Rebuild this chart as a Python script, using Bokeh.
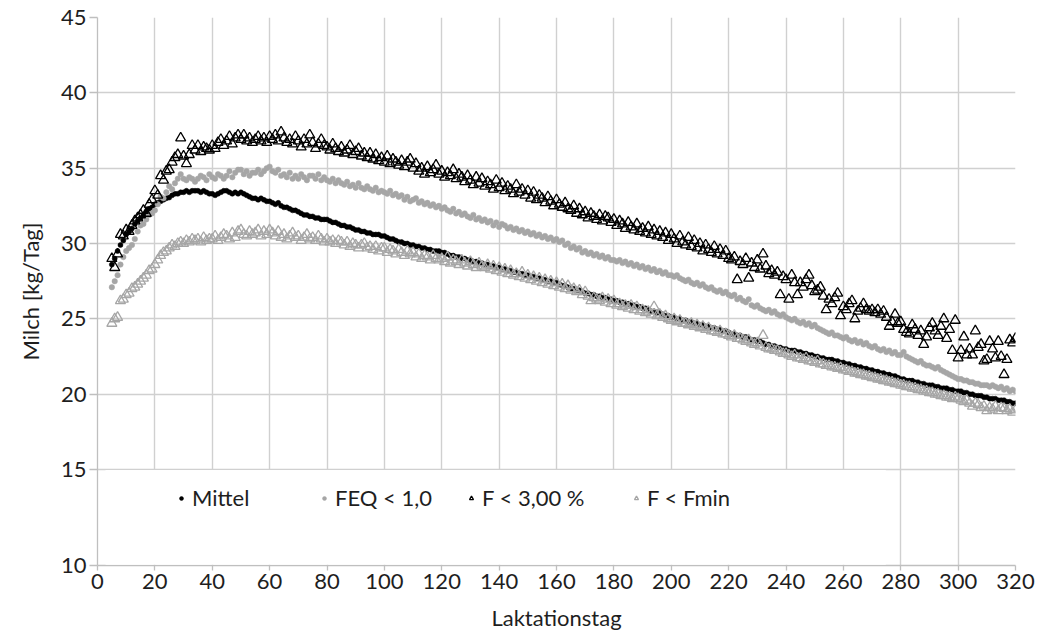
from bokeh.plotting import figure
from bokeh.models import Legend, LegendItem, BoxAnnotation, FixedTicker
from bokeh.embed import file_html
from bokeh.resources import INLINE

days = list(range(5, 321))

mittel = [
    28.6, 29.0, 29.5, 29.9, 30.2, 30.6, 30.8, 31.0, 31.3, 31.5,
    31.7, 31.9, 32.1, 32.3, 32.4, 32.6, 32.7, 32.8, 32.9, 33.0,
    33.05, 33.2, 33.3, 33.3, 33.4, 33.4, 33.5, 33.4, 33.5, 33.5,
    33.5, 33.4, 33.5, 33.4, 33.3, 33.3, 33.2, 33.3, 33.4, 33.5,
    33.5, 33.4, 33.3, 33.4, 33.3, 33.4, 33.3, 33.2, 33.1, 33.0,
    33.0, 32.9, 33.0, 32.9, 32.8, 32.8, 32.7, 32.6, 32.7, 32.5,
    32.4, 32.4, 32.3, 32.2, 32.2, 32.1, 32.0, 31.9, 31.9, 31.8,
    31.8, 31.7, 31.7, 31.6, 31.6, 31.6, 31.5, 31.4, 31.4, 31.3,
    31.2, 31.2, 31.1, 31.1, 31.0, 30.9, 30.9, 30.8, 30.8, 30.7,
    30.7, 30.6, 30.6, 30.6, 30.5, 30.5, 30.4, 30.3, 30.3, 30.2,
    30.1, 30.1, 30.0, 30.0, 29.9, 29.9, 29.8, 29.8, 29.7, 29.7,
    29.6, 29.6, 29.5, 29.5, 29.5, 29.4, 29.4, 29.3, 29.2, 29.2,
    29.1, 29.1, 29.0, 29.0, 28.9, 28.9, 28.8, 28.8, 28.7, 28.7,
    28.6, 28.6, 28.5, 28.5, 28.4, 28.4, 28.3, 28.3, 28.2, 28.2,
    28.1, 28.1, 28.0, 28.0, 27.9, 27.9, 27.8, 27.8, 27.7, 27.7,
    27.6, 27.6, 27.5, 27.5, 27.4, 27.4, 27.3, 27.2, 27.2, 27.1,
    27.0, 27.0, 26.9, 26.9, 26.8, 26.7, 26.7, 26.6, 26.6, 26.5,
    26.5, 26.4, 26.4, 26.3, 26.3, 26.2, 26.2, 26.1, 26.1, 26.0,
    26.0, 25.9, 25.9, 25.8, 25.8, 25.7, 25.7, 25.6, 25.5, 25.5,
    25.4, 25.4, 25.3, 25.2, 25.2, 25.1, 25.1, 25.0, 25.0, 24.9,
    24.9, 24.8, 24.8, 24.7, 24.7, 24.6, 24.6, 24.5, 24.5, 24.4,
    24.4, 24.3, 24.3, 24.2, 24.2, 24.1, 24.0, 24.0, 23.9, 23.9,
    23.8, 23.8, 23.7, 23.6, 23.6, 23.5, 23.5, 23.4, 23.3, 23.3,
    23.2, 23.2, 23.1, 23.1, 23.0, 23.0, 22.9, 22.9, 22.9, 22.8,
    22.8, 22.7, 22.7, 22.6, 22.6, 22.5, 22.5, 22.4, 22.4, 22.3,
    22.3, 22.3, 22.2, 22.2, 22.1, 22.1, 22.0, 22.0, 21.9, 21.9,
    21.8, 21.8, 21.7, 21.7, 21.6, 21.6, 21.5, 21.5, 21.4, 21.4,
    21.3, 21.3, 21.2, 21.2, 21.1, 21.0, 21.0, 20.9, 20.9, 20.9,
    20.8, 20.8, 20.7, 20.7, 20.6, 20.6, 20.6, 20.5, 20.5, 20.4,
    20.4, 20.4, 20.3, 20.3, 20.2, 20.2, 20.2, 20.1, 20.1, 20.0,
    20.0, 19.9, 19.9, 19.9, 19.8, 19.8, 19.7, 19.7, 19.7, 19.6,
    19.6, 19.6, 19.5, 19.5, 19.4, 19.4,
]

feq = [
    27.1, 27.5, 27.9, 28.6, 29.1, 29.5, 29.7, 29.9, 30.3, 30.8,
    31.2, 31.3, 31.6, 31.9, 32.0, 32.2, 32.6, 33.1, 33.0, 33.4,
    33.8, 33.6, 34.0, 34.3, 34.6, 34.3, 34.2, 34.4, 34.3, 34.1,
    34.3, 34.5, 34.4, 34.2, 34.6, 34.4, 34.3, 34.6, 34.5, 34.3,
    34.5, 34.8, 34.4, 34.7, 34.9, 34.9, 34.6, 34.8, 34.5, 34.7,
    34.7, 34.9, 34.6, 34.8, 35.0, 35.1, 34.8, 34.7, 34.9, 34.5,
    34.6, 34.4, 34.7, 34.3, 34.5, 34.3, 34.6, 34.4, 34.2, 34.5,
    34.5, 34.3, 34.6, 34.2, 34.4, 34.2, 34.1, 34.3, 34.0, 34.2,
    34.0, 33.9, 34.1, 33.8, 33.9, 33.7, 34.0, 33.7, 33.6, 33.8,
    33.6, 33.5, 33.7, 33.4, 33.5, 33.4, 33.3, 33.5, 33.2, 33.3,
    33.1, 33.2, 32.9, 33.1, 32.8, 32.9, 33.0, 32.7, 32.8, 32.6,
    32.7, 32.5, 32.6, 32.4, 32.5, 32.3, 32.4, 32.2, 32.1, 32.3,
    32.0, 32.1, 31.9, 32.0, 31.8, 31.7, 31.9, 31.6, 31.7, 31.5,
    31.6, 31.4, 31.5, 31.2, 31.4, 31.1, 31.3, 31.2, 31.0, 31.1,
    30.9, 31.0, 30.8, 30.9, 30.7, 30.8, 30.6, 30.7, 30.5, 30.6,
    30.4, 30.5, 30.3, 30.4, 30.2, 30.3, 30.1, 30.2, 29.9, 30.0,
    29.7, 29.8, 29.6, 29.7, 29.4, 29.5, 29.3, 29.4, 29.2, 29.3,
    29.1, 29.2, 29.0, 29.1, 28.9, 28.9, 28.8, 28.9, 28.7, 28.8,
    28.6, 28.7, 28.5, 28.6, 28.4, 28.5, 28.3, 28.4, 28.2, 28.3,
    28.1, 28.2, 28.0, 28.1, 27.9, 27.9, 27.8, 27.9, 27.7, 27.6,
    27.5, 27.6, 27.4, 27.3, 27.4, 27.2, 27.3, 27.1, 27.0, 27.1,
    26.9, 26.8, 26.9, 26.7, 26.8, 26.6, 26.5, 26.6, 26.3, 26.4,
    26.2, 26.1, 26.3, 25.9, 25.8, 25.9, 25.7, 25.6, 25.5, 25.6,
    25.4, 25.5, 25.3, 25.2, 25.3, 25.1, 25.0, 24.9, 25.0, 24.8,
    24.7, 24.8, 24.6, 24.7, 24.5, 24.6, 24.4, 24.3, 24.2, 24.1,
    24.0, 24.1, 23.9, 23.9, 23.8, 23.7, 23.8, 23.6, 23.5, 23.6,
    23.4, 23.5, 23.3, 23.4, 23.2, 23.1, 23.2, 23.0, 22.9, 23.0,
    22.8, 22.9, 22.7, 22.8, 22.6, 22.6, 22.8, 22.5, 22.4, 22.3,
    22.2, 22.1, 22.2, 22.0, 21.9, 21.9, 21.8, 21.7, 21.8, 21.6,
    21.5, 21.4, 21.3, 21.2, 21.1, 21.0, 21.0, 20.9, 20.9, 20.8,
    20.8, 20.7, 20.7, 20.6, 20.6, 20.6, 20.5, 20.6, 20.5, 20.4,
    20.5, 20.3, 20.4, 20.2, 20.3, 20.2,
]

f300 = [
    29.0, 28.4, 29.3, 30.6, 30.5, 30.9, 30.8, 31.2, 31.5, 31.7,
    31.9, 32.2, 32.0, 32.6, 32.9, 33.5, 33.2, 34.5, 34.2, 34.8,
    34.9, 35.4, 35.7, 35.9, 37.0, 35.8, 35.3, 35.9, 36.5, 36.2,
    36.5, 36.1, 36.4, 36.3, 36.2, 36.5, 36.3, 36.7, 36.9, 36.5,
    36.8, 37.1, 36.6, 37.0, 37.2, 36.9, 37.2, 36.8, 37.0, 36.7,
    36.9, 37.1, 36.8, 37.0, 36.7, 37.1, 36.9, 37.2, 36.8, 37.4,
    37.0, 36.7, 36.9, 36.6, 37.1, 36.8, 36.4, 36.9, 36.6, 37.2,
    36.7, 36.3, 36.6, 36.9, 36.5, 36.4, 36.2, 36.6, 36.3, 36.1,
    36.4, 36.0, 36.2, 36.5, 35.9, 36.1, 36.3, 35.8, 36.0, 35.7,
    36.0, 35.6, 35.9, 35.5, 35.7, 35.4, 35.8, 35.3, 35.6, 35.4,
    35.2, 35.5, 35.1, 35.4, 35.6, 35.0, 35.3, 34.8, 35.0, 34.6,
    35.1, 34.7, 34.9, 35.2, 34.6, 34.8, 34.4, 34.7, 34.5, 34.9,
    34.3, 34.6, 34.4, 34.1, 34.5, 34.2, 33.9, 34.4, 34.0, 34.3,
    33.8, 34.1, 33.9, 33.6, 34.2, 33.7, 34.0, 33.5, 33.8, 33.6,
    33.3, 33.9, 33.4, 33.6, 33.2, 33.5, 33.0, 33.4, 32.9, 33.2,
    33.0, 32.7, 33.1, 32.8, 32.5, 32.9, 32.6, 32.4, 32.7, 32.3,
    32.2, 32.5, 32.0, 32.3, 31.9, 32.1, 31.7, 32.0, 31.8, 31.6,
    31.9, 31.5, 31.8, 31.7, 31.4, 31.6, 31.2, 31.5, 31.3, 31.0,
    31.4, 31.1, 30.9, 31.3, 30.8, 31.0, 30.7, 31.1, 30.6, 30.9,
    30.5, 30.8, 30.4, 30.7, 30.2, 30.6, 30.3, 30.0, 30.5, 30.1,
    29.9, 30.4, 29.8, 30.2, 29.7, 30.0, 29.5, 29.9, 29.6, 29.4,
    29.8, 29.3, 29.6, 29.2, 29.5, 29.0, 28.9, 29.1, 27.6, 28.8,
    28.6, 29.0, 27.7, 28.7, 28.4, 28.9, 28.3, 29.3, 28.5, 28.0,
    28.2, 27.9, 28.1, 26.6, 27.8, 27.6, 26.3, 27.9, 27.4, 26.6,
    27.4, 27.1, 27.6, 27.9, 27.2, 26.8, 26.9, 27.1, 26.5, 25.6,
    26.3, 26.0, 26.4, 26.7, 25.2, 25.8, 25.6, 26.0, 26.2, 25.0,
    25.5, 25.7, 26.0, 25.6, 25.5, 25.6, 25.4, 25.6, 25.3, 25.5,
    25.1, 24.5, 24.8, 25.3, 24.7, 24.8, 24.3, 24.1, 24.0, 24.6,
    24.3, 23.9, 24.2, 23.3, 23.8, 24.4, 24.7, 24.2, 23.9, 24.5,
    25.0, 23.7, 24.3, 22.9, 24.9, 22.4, 22.9, 23.8, 22.6, 23.0,
    22.6, 24.2, 23.1, 23.3, 22.2, 22.3, 23.5, 23.0, 22.4, 23.5,
    22.5, 21.3, 22.3, 23.6, 23.4, 23.7,
]

fmin = [
    24.7, 25.0, 25.1, 26.2, 26.3, 26.6, 26.7, 27.0, 27.1, 27.3,
    27.5, 27.7, 27.9, 28.2, 28.3, 28.6, 28.9, 29.2, 29.4, 29.5,
    29.7, 29.9, 29.8, 30.0, 30.1, 30.0, 30.2, 30.1, 30.3, 30.2,
    30.3, 30.1, 30.4, 30.2, 30.3, 30.3, 30.5, 30.2, 30.4, 30.6,
    30.5, 30.3, 30.7, 30.4, 30.8, 30.9, 30.6, 30.5, 30.8, 30.6,
    30.7, 30.9, 30.5, 30.8, 30.6, 30.9, 30.7, 30.5, 30.8, 30.4,
    30.6, 30.3, 30.5, 30.7, 30.4, 30.5, 30.2, 30.4, 30.6, 30.3,
    30.4, 30.2, 30.5, 30.3, 30.1, 30.3, 30.1, 30.2, 30.0, 30.2,
    30.1, 29.9, 30.1, 29.8, 30.0, 29.9, 29.7, 29.9, 30.0, 29.7,
    29.8, 29.6, 29.8, 29.5, 29.7, 29.7, 29.4, 29.6, 29.5, 29.3,
    29.6, 29.4, 29.2, 29.5, 29.3, 29.4, 29.1, 29.3, 29.0, 29.2,
    29.1, 28.9, 29.2, 29.0, 28.9, 29.0, 28.8, 29.1, 28.7, 28.9,
    28.8, 28.6, 28.9, 28.7, 28.5, 28.8, 28.6, 28.4, 28.7, 28.5,
    28.4, 28.6, 28.3, 28.5, 28.2, 28.4, 28.1, 28.3, 28.0, 28.2,
    27.9, 28.0, 27.8, 28.1, 27.7, 27.9, 27.6, 27.8, 27.5, 27.7,
    27.4, 27.6, 27.3, 27.5, 27.2, 27.4, 27.1, 27.3, 27.0, 27.2,
    26.9, 27.0, 26.8, 26.9, 26.6, 26.8, 26.5, 26.2, 26.4, 26.3,
    26.2, 26.4, 26.1, 26.3, 26.0, 26.2, 25.9, 26.0, 25.8, 25.9,
    25.7, 25.9, 25.6, 25.8, 25.5, 25.6, 25.4, 25.5, 25.3, 25.8,
    25.2, 25.3, 25.1, 25.2, 25.0, 24.9, 25.0, 24.8, 24.9, 24.7,
    24.7, 24.6, 24.7, 24.5, 24.6, 24.4, 24.5, 24.3, 24.4, 24.2,
    24.2, 24.1, 24.2, 24.0, 24.0, 23.9, 23.8, 23.9, 23.7, 23.7,
    23.6, 23.5, 23.6, 23.4, 23.3, 23.4, 23.2, 23.9, 23.1, 23.0,
    23.0, 22.9, 22.9, 22.8, 22.7, 22.7, 22.6, 22.5, 22.6, 22.4,
    22.4, 22.3, 22.4, 22.2, 22.2, 22.1, 22.2, 22.0, 22.0, 21.9,
    21.9, 21.8, 21.8, 21.7, 21.75, 21.6, 21.6, 21.5, 21.5, 21.4,
    21.4, 21.3, 21.3, 21.2, 21.2, 21.1, 21.1, 21.0, 21.0, 20.9,
    20.9, 20.8, 20.8, 20.7, 20.7, 20.6, 20.6, 20.5, 20.5, 20.4,
    20.4, 20.3, 20.3, 20.2, 20.2, 20.1, 20.1, 20.0, 20.0, 19.9,
    19.9, 19.8, 19.8, 19.7, 19.8, 19.7, 19.6, 19.5, 19.6, 19.4,
    19.2, 19.4, 19.3, 19.1, 19.2, 18.9, 19.1, 19.0, 19.2, 18.9,
    19.1, 19.05, 18.9, 19.0, 18.8, 18.95,
]

x_ticks = list(range(0, 321, 20))
y_ticks = [15, 20, 25, 30, 35, 40, 45]
y_bottom_label = "10"
labels = ["Mittel", "FEQ < 1,0", "F < 3,00 %", "F < Fmin"]

for s in (mittel, feq, f300, fmin):
    assert len(s) == len(days), len(s)

# layout: the reference's lowest band (10-15) is drawn taller than the others
Y_FLOOR = 8.63

FONT = "Lato"
FS = "22px"
TXT = "#1E1E1E"
GREY = "#A6A6A6"
GRID = "#D0D0D0"

p = figure(width=1041, height=635, x_range=(0, 320), y_range=(Y_FLOOR, 45),
           output_backend="svg", toolbar_location=None,
           min_border_left=97, min_border_right=26, min_border_top=17,
           min_border_bottom=70)
p.outline_line_color = None
p.background_fill_color = "white"
p.border_fill_color = "white"

for ax in (p.xaxis[0], p.yaxis[0]):
    ax.axis_line_color = "#BFBFBF"
    ax.axis_line_width = 1.3
    ax.major_tick_line_color = "#BFBFBF"
    ax.major_tick_line_width = 1.3
    ax.minor_tick_line_color = None
    ax.major_tick_in = 0
    ax.major_label_text_font = FONT
    ax.major_label_text_font_size = FS
    ax.major_label_text_color = TXT
    ax.axis_label_text_font = FONT
    ax.axis_label_text_font_size = FS
    ax.axis_label_text_font_style = "normal"
    ax.axis_label_text_color = TXT

p.xaxis.ticker = FixedTicker(ticks=x_ticks)
p.yaxis.ticker = FixedTicker(ticks=[Y_FLOOR] + y_ticks)
p.yaxis.major_label_overrides = {Y_FLOOR: y_bottom_label}
p.xaxis.major_tick_out = 5
p.yaxis.major_tick_out = 8
p.xaxis.axis_label = "Laktationstag"
p.yaxis.axis_label = "Milch [kg/Tag]"
p.xaxis.major_label_standoff = 3
p.yaxis.major_label_standoff = 3
p.xaxis.axis_label_standoff = 12
p.yaxis.axis_label_standoff = 14

p.xgrid.ticker = FixedTicker(ticks=x_ticks)
p.ygrid.ticker = FixedTicker(ticks=y_ticks)
p.grid.grid_line_color = GRID
p.grid.grid_line_width = 1.4

r1 = p.scatter(days, mittel, marker="circle", size=5, fill_color="black",
               line_color="black", line_width=0.5)
r2 = p.scatter(days, feq, marker="circle", size=5.5, fill_color=GREY,
               line_color=GREY, line_width=0.5)
r3 = p.scatter(days, f300, marker="triangle", size=10, fill_alpha=0,
               line_color="black", line_width=1.3)
r4 = p.scatter(days, fmin, marker="triangle", size=10, fill_alpha=0,
               line_color=GREY, line_width=1.3)

box = BoxAnnotation(left=2.8, right=274.8, bottom=Y_FLOOR + 0.05, top=14.97,
                    fill_color="white", fill_alpha=1, line_alpha=0)
p.add_layout(box)

renderers = [r1, r2, r3, r4]
legend_x = [79, 222, 369, 534]
for lab, r, lx in zip(labels, renderers, legend_x):
    lg = Legend(items=[LegendItem(label=lab, renderers=[r])],
                location=(lx, 54), orientation="horizontal",
                background_fill_alpha=0, border_line_alpha=0,
                label_text_font=FONT, label_text_font_size=FS,
                label_text_color=TXT, glyph_width=10, glyph_height=10,
                label_standoff=6, padding=0, margin=0)
    p.add_layout(lg, "center")

open("out.html", "w").write(file_html(p, INLINE))
